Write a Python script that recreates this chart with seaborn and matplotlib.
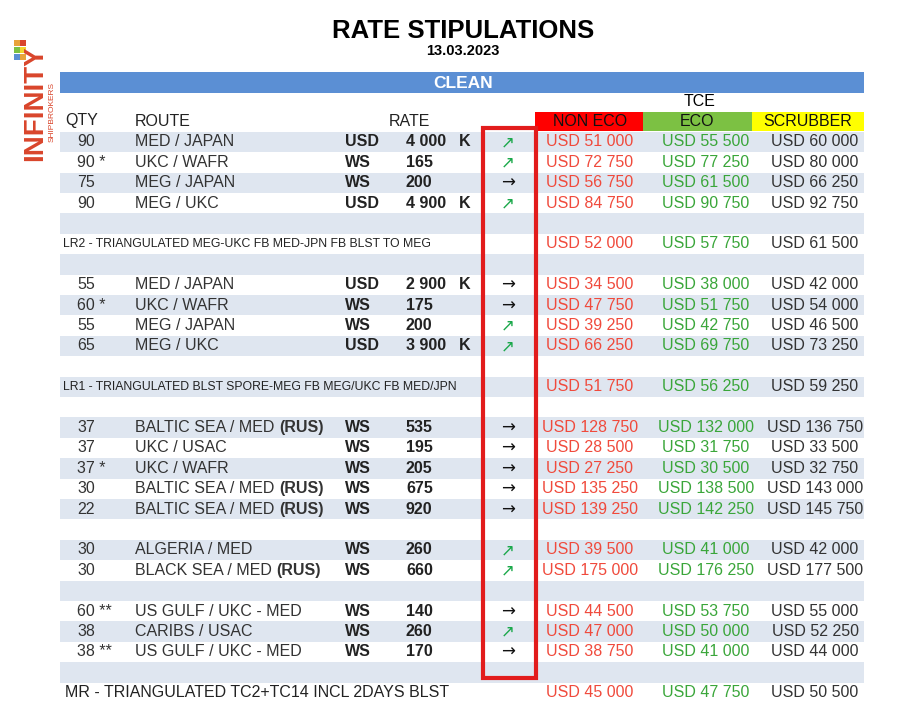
import matplotlib
matplotlib.use("Agg")
import matplotlib.pyplot as plt
import seaborn as sns
from matplotlib.patches import Rectangle

# ---- data ----
qty = ["90", "90 *", "75", "90", "", "", "", "55", "60 *", "55", "65", "", "", "",
       "37", "37", "37 *", "30", "22", "", "30", "30", "", "60 **", "38", "38 **", "", ""]
route = ["MED / JAPAN", "UKC / WAFR", "MEG / JAPAN", "MEG / UKC", "",
         "LR2 - TRIANGULATED MEG-UKC FB MED-JPN FB BLST TO MEG", "",
         "MED / JAPAN", "UKC / WAFR", "MEG / JAPAN", "MEG / UKC", "",
         "LR1 - TRIANGULATED BLST SPORE-MEG FB MEG/UKC FB MED/JPN", "",
         "BALTIC SEA / MED (RUS)", "UKC / USAC", "UKC / WAFR", "BALTIC SEA / MED (RUS)",
         "BALTIC SEA / MED (RUS)", "", "ALGERIA / MED", "BLACK SEA / MED (RUS)", "",
         "US GULF / UKC - MED", "CARIBS / USAC", "US GULF / UKC - MED", "",
         "MR - TRIANGULATED TC2+TC14 INCL 2DAYS BLST"]
unit = ["USD", "WS", "WS", "USD", "", "", "", "USD", "WS", "WS", "USD", "", "", "",
        "WS", "WS", "WS", "WS", "WS", "", "WS", "WS", "", "WS", "WS", "WS", "", ""]
rate = ["4 000", "165", "200", "4 900", "", "", "", "2 900", "175", "200", "3 900", "", "", "",
        "535", "195", "205", "675", "920", "", "260", "660", "", "140", "260", "170", "", ""]
rate_k = ["K", "", "", "K", "", "", "", "K", "", "", "K", "", "", "",
          "", "", "", "", "", "", "", "", "", "", "", "", "", ""]
trend = ["up", "up", "flat", "up", "", "", "", "flat", "flat", "up", "up", "", "", "",
         "flat", "flat", "flat", "flat", "flat", "", "up", "up", "", "flat", "up", "flat", "", ""]
non_eco = ["51 000", "72 750", "56 750", "84 750", "", "52 000", "", "34 500", "47 750", "39 250",
           "66 250", "", "51 750", "", "128 750", "28 500", "27 250", "135 250", "139 250", "",
           "39 500", "175 000", "", "44 500", "47 000", "38 750", "", "45 000"]
eco = ["55 500", "77 250", "61 500", "90 750", "", "57 750", "", "38 000", "51 750", "42 750",
       "69 750", "", "56 250", "", "132 000", "31 750", "30 500", "138 500", "142 250", "",
       "41 000", "176 250", "", "53 750", "50 000", "41 000", "", "47 750"]
scrubber = ["60 000", "80 000", "66 250", "92 750", "", "61 500", "", "42 000", "54 000", "46 500",
            "73 250", "", "59 250", "", "136 750", "33 500", "32 750", "143 000", "145 750", "",
            "42 000", "177 500", "", "55 000", "52 250", "44 000", "", "50 500"]

sns.set_theme(style="white")
plt.rcParams['font.family'] = ['Liberation Sans', 'DejaVu Sans']

fig = plt.figure(figsize=(9.18, 7.10), dpi=100)
ax = fig.add_axes([0, 0, 1, 1])
ax.set_xlim(0, 918)
ax.set_ylim(710, 0)
ax.axis("off")

x0, x1 = 60, 864
y_first, dy = 142, 20.4
n = len(route)
ys = [y_first + i * dy for i in range(n)]

# stripes
for i, y in enumerate(ys):
    if i % 2 == 0:
        ax.add_patch(Rectangle((x0, y - dy / 2), x1 - x0, dy, color="#dfe6f0", lw=0, zorder=0))

# title and bands
ax.text(463, 31, "RATE STIPULATIONS", ha="center", va="center", fontsize=18.5, weight="bold", color="black")
ax.text(463, 51, "13.03.2023", ha="center", va="center", fontsize=10.5, weight="bold", color="black")
ax.add_patch(Rectangle((x0, 72), x1 - x0, 21, color="#5b8fd4", lw=0))
ax.text(463, 83, "CLEAN", ha="center", va="center", fontsize=12.5, weight="bold", color="white")

ax.text(700, 101, "TCE", ha="center", va="center", fontsize=11.5, color="black")
heads = [("NON ECO", "#ff0000", 535, 643, 590), ("ECO", "#7cc143", 643, 752, 697),
         ("SCRUBBER", "#ffff00", 752, 864, 808)]
for lbl, col, a, b, cx in heads:
    ax.add_patch(Rectangle((a, 112), b - a, 19, color=col, lw=0))
    ax.text(cx, 122, lbl, ha="center", va="center", fontsize=11.5, color="#111111")

ax.text(65, 121, "QTY", ha="left", va="center", fontsize=11.5, color="#222222")
ax.text(135, 121, "ROUTE", ha="left", va="center", fontsize=11.5, color="#222222")
ax.text(389, 121, "RATE", ha="left", va="center", fontsize=11.5, color="#222222")

fs = 11.5
for i, y in enumerate(ys):
    if qty[i]:
        ax.text(77, y, qty[i], ha="left", va="center", fontsize=fs, color="#333333")
    if route[i]:
        if unit[i]:
            if route[i].endswith("(RUS)"):
                base = route[i][:-5]
                t = ax.text(135, y, base, ha="left", va="center", fontsize=fs, color="#333333")
                ax.annotate("(RUS)", xycoords=t, xy=(1, 0.5), va="center", ha="left",
                            fontsize=fs, weight="bold", color="#333333")
            else:
                ax.text(135, y, route[i], ha="left", va="center", fontsize=fs, color="#333333")
        elif route[i].startswith("MR"):
            ax.text(65, y, route[i], ha="left", va="center", fontsize=fs, color="#222222")
        else:
            ax.text(63, y, route[i], ha="left", va="center", fontsize=8.8, color="#222222")
    if unit[i]:
        ax.text(345, y, unit[i], ha="left", va="center", fontsize=fs, weight="bold", color="#222222")
        ax.text(406, y, rate[i], ha="left", va="center", fontsize=fs, weight="bold", color="#222222")
    if rate_k[i]:
        ax.text(459, y, "K", ha="left", va="center", fontsize=fs, weight="bold", color="#222222")
    if trend[i] == "up":
        ax.text(508, y, "↗", ha="center", va="center", fontsize=12, color="#1aa84a", family="DejaVu Sans")
    elif trend[i] == "flat":
        ax.text(508, y, "→", ha="center", va="center", fontsize=12, color="#111111", family="DejaVu Sans")
    if non_eco[i]:
        ax.text(590, y, "USD " + non_eco[i], ha="center", va="center", fontsize=fs, color="#f04a3c")
        ax.text(706, y, "USD " + eco[i], ha="center", va="center", fontsize=fs, color="#3aa63a")
        ax.text(815, y, "USD " + scrubber[i], ha="center", va="center", fontsize=fs, color="#333333")

# red highlight box
ax.add_patch(Rectangle((483, 128), 53, 550, fill=False, ec="#e21c1c", lw=3))

# logo
ax.text(35, 103, "INFINITY", rotation=90, ha="center", va="center", fontsize=20, weight="bold", color="#d9452b")
ax.text(52, 112, "SHIPBROKERS", rotation=90, ha="center", va="center", fontsize=6, color="#d9452b")
for k, c in enumerate(["#e8a33a", "#d9452b", "#7cc143", "#f2d630", "#5b8fd4", "#e8a33a"]):
    ax.add_patch(Rectangle((14 + (k % 2) * 6, 40 + (k // 2) * 7), 6, 6, color=c, lw=0))

fig.savefig("out.png", dpi=100)
